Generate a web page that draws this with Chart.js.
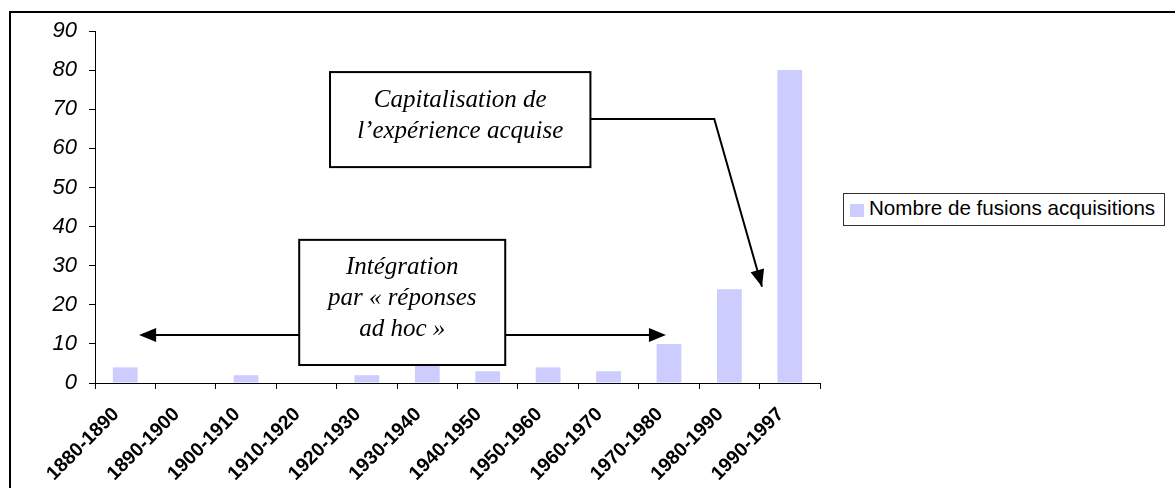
<!DOCTYPE html>
<html>
<head>
<meta charset="utf-8">
<script src="https://cdn.jsdelivr.net/npm/chart.js@4/dist/chart.umd.min.js"></script>
<style>
    html, body { margin: 0; padding: 0; background: #ffffff; }
    body { width: 1175px; height: 488px; position: relative; overflow: hidden; }
    #frame { position: absolute; left: 9px; top: 11px; width: 1300px; height: 600px; border: 2px solid #000; }
    #chart-wrap { position: absolute; left: 0; top: 0; width: 1175px; height: 488px; }
    #legend {
        position: absolute; left: 843px; top: 193px; width: 320px; height: 31px;
        border: 1px solid #333; background: #fff;
        font-family: 'Liberation Sans', Arial, sans-serif; font-size: 20.6px; color: #000;
    }
    #legend span.box { position: absolute; left: 6px; top: 10px; width: 14px; height: 13px; }
    #legend span.text { position: absolute; left: 25px; top: 2px; white-space: nowrap; }
</style>
</head>
<body>
<div id="frame"></div>
<div id="chart-wrap"><canvas id="fusions-chart" width="1175" height="488"></canvas></div>
<div id="legend"></div>
<script>
// Data
const categories = ['1880-1890', '1890-1900', '1900-1910', '1910-1920', '1920-1930', '1930-1940',
    '1940-1950', '1950-1960', '1960-1970', '1970-1980', '1980-1990', '1990-1997'];
const fusions = [4, 0, 2, 0, 2, 5, 3, 4, 3, 10, 24, 80];
const seriesLabel = 'Nombre de fusions acquisitions';
const yMax = 90;
const yStep = 10;

// Text boxes, placed in data units (category index, value)
const capitalisationBox = { x0: 3.39, x1: 7.70, y0: 79.5, y1: 55.2, lines: ['Capitalisation de', 'l\u2019expérience acquise'] };
const integrationBox = { x0: 2.88, x1: 6.29, y0: 36.6, y1: 4.6, lines: ['Intégration', 'par « réponses', 'ad hoc »'] };

const barColor = '#CCCCFF';

document.addEventListener('DOMContentLoaded', function () {
    const ctx = document.getElementById('fusions-chart').getContext('2d');

    function arrowHead(c, fromX, fromY, toX, toY) {
        const angle = Math.atan2(toY - fromY, toX - fromX);
        const len = 17, half = 7;
        c.beginPath();
        c.moveTo(toX, toY);
        c.lineTo(toX - len * Math.cos(angle) + half * Math.sin(angle), toY - len * Math.sin(angle) - half * Math.cos(angle));
        c.lineTo(toX - len * Math.cos(angle) - half * Math.sin(angle), toY - len * Math.sin(angle) + half * Math.cos(angle));
        c.closePath();
        c.fill();
    }

    function drawBox(c, x, y, box) {
        const left = x.getPixelForValue(box.x0);
        const right = x.getPixelForValue(box.x1);
        const top = y.getPixelForValue(box.y0);
        const bottom = y.getPixelForValue(box.y1);
        c.fillStyle = '#ffffff';
        c.fillRect(left, top, right - left, bottom - top);
        c.lineWidth = 2;
        c.strokeStyle = '#000';
        c.strokeRect(left, top, right - left, bottom - top);
        c.fillStyle = '#000';
        c.font = 'italic 25px "Liberation Serif", "Times New Roman", serif';
        c.textAlign = 'center';
        c.textBaseline = 'alphabetic';
        const cx = (left + right) / 2;
        const cy = (top + bottom) / 2;
        const n = box.lines.length;
        box.lines.forEach((line, k) => {
            c.fillText(line, cx, cy + (k - (n - 1) / 2) * 31 + 3);
        });
    }

    const annotations = {
        id: 'annotations',
        afterDatasetsDraw(chart) {
            const c = chart.ctx;
            const { x, y } = chart.scales;
            c.save();
            c.strokeStyle = '#000';
            c.fillStyle = '#000';
            c.lineWidth = 2;

            // arrow from "Capitalisation" box down to the last bars
            const p1 = [x.getPixelForValue(capitalisationBox.x1), y.getPixelForValue(67.5)];
            const p2 = [x.getPixelForValue(9.75), y.getPixelForValue(67.5)];
            const p3 = [x.getPixelForValue(10.54), y.getPixelForValue(24.6)];
            c.beginPath();
            c.moveTo(p1[0], p1[1]);
            c.lineTo(p2[0], p2[1]);
            c.lineTo(p3[0], p3[1]);
            c.stroke();
            arrowHead(c, p2[0], p2[1], p3[0], p3[1]);

            // double arrow across the early periods
            const ay = y.getPixelForValue(12.3);
            const leftStart = x.getPixelForValue(integrationBox.x0);
            const leftTip = x.getPixelForValue(0.23);
            const rightStart = x.getPixelForValue(integrationBox.x1);
            const rightTip = x.getPixelForValue(8.95);
            c.beginPath();
            c.moveTo(leftStart, ay);
            c.lineTo(leftTip + 10, ay);
            c.moveTo(rightStart, ay);
            c.lineTo(rightTip - 10, ay);
            c.stroke();
            arrowHead(c, leftStart, ay, leftTip, ay);
            arrowHead(c, rightStart, ay, rightTip, ay);

            drawBox(c, x, y, capitalisationBox);
            drawBox(c, x, y, integrationBox);
            c.restore();
        }
    };

    const fusionsChart = new Chart(ctx, {
        type: 'bar',
        data: {
            labels: categories,
            datasets: [
                {
                    label: seriesLabel,
                    data: fusions,
                    backgroundColor: barColor,
                    barPercentage: 0.41,
                    categoryPercentage: 1.0
                }
            ]
        },
        options: {
            responsive: false,
            animation: false,
            layout: {
                padding: { left: 0, top: 31, right: 355, bottom: 0 }
            },
            scales: {
                x: {
                    grid: {
                        drawOnChartArea: false,
                        color: '#000',
                        tickLength: 6,
                        offset: true
                    },
                    border: { display: true, color: '#000', width: 1 },
                    ticks: {
                        autoSkip: false,
                        minRotation: 45,
                        maxRotation: 45,
                        padding: 14,
                        labelOffset: -9,
                        color: '#000',
                        font: {
                            family: '"Liberation Sans", Arial, sans-serif',
                            size: 19.5,
                            weight: 'bold'
                        }
                    },
                    afterFit: function (scale) {
                        scale.height = 105;
                    }
                },
                y: {
                    min: 0,
                    max: yMax,
                    grid: {
                        drawOnChartArea: false,
                        color: '#000',
                        tickLength: 6
                    },
                    border: { display: true, color: '#000', width: 1 },
                    ticks: {
                        stepSize: yStep,
                        padding: 12,
                        color: '#000',
                        font: {
                            family: '"Liberation Sans", Arial, sans-serif',
                            size: 22,
                            style: 'italic'
                        }
                    },
                    afterFit: function (scale) {
                        scale.width = 95;
                    }
                }
            },
            plugins: {
                legend: { display: false },
                tooltip: { enabled: false }
            }
        },
        plugins: [annotations]
    });

    // HTML legend built from the chart's dataset
    const legend = document.getElementById('legend');
    fusionsChart.data.datasets.forEach(ds => {
        const swatch = document.createElement('span');
        swatch.className = 'box';
        swatch.style.background = ds.backgroundColor;
        const text = document.createElement('span');
        text.className = 'text';
        text.textContent = ds.label;
        legend.appendChild(swatch);
        legend.appendChild(text);
    });
});
</script>
</body>
</html>
